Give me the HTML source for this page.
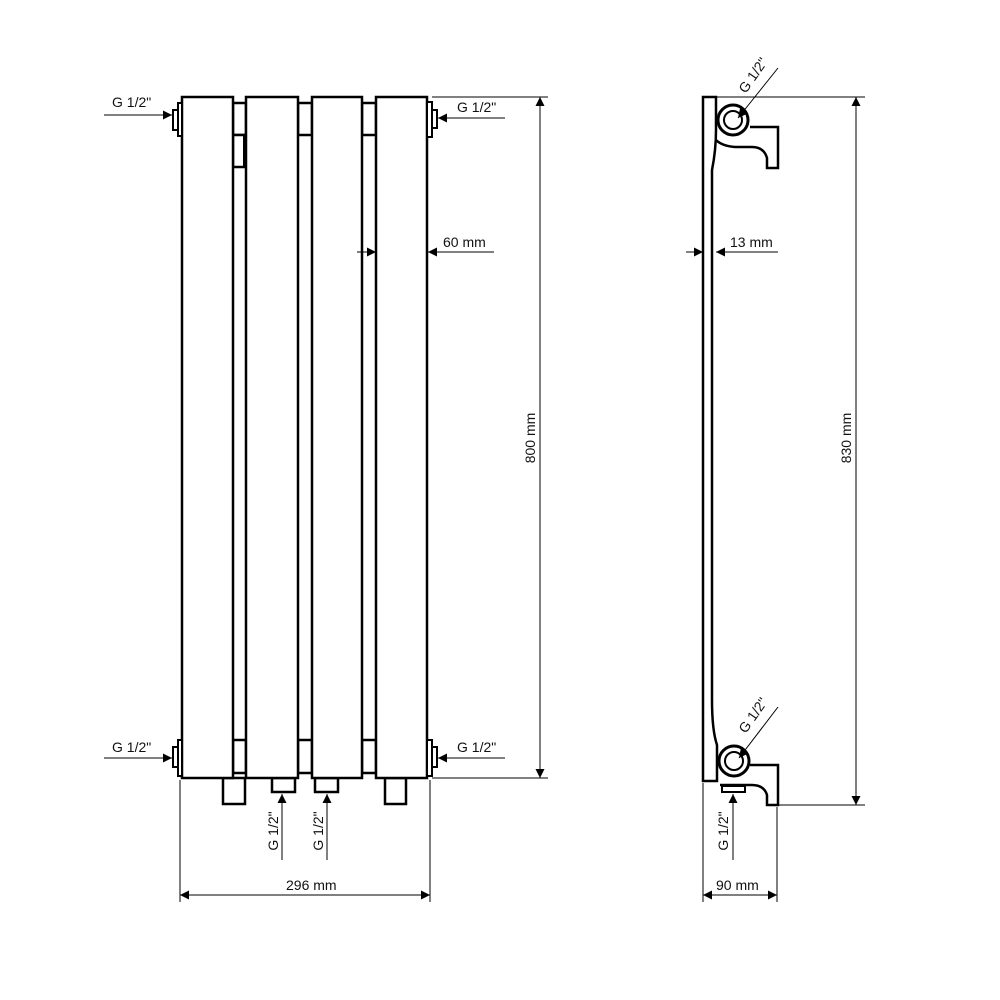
<!DOCTYPE html>
<html><head><meta charset="utf-8"><style>html,body{margin:0;padding:0;background:#fff}svg{display:block}text{font-family:"Liberation Sans",Arial,sans-serif;font-size:14px;fill:#111}</style></head>
<body>
<svg width="1000" height="1000" viewBox="0 0 1000 1000" xmlns="http://www.w3.org/2000/svg">
<defs>
<marker id="a" viewBox="0 0 10 10" refX="10" refY="5" markerWidth="13" markerHeight="9" markerUnits="userSpaceOnUse" orient="auto-start-reverse"><path d="M0,0 L10,5 L0,10 Z" fill="#000"/></marker>
</defs>
<g fill="#fff" stroke="#000" stroke-width="2.5">
<rect x="233" y="103" width="13" height="32"/><rect x="233" y="135" width="13" height="32"/>
<line x1="245" y1="136" x2="245" y2="166" stroke-width="4"/>
<rect x="298" y="103" width="14" height="32"/><rect x="362" y="103" width="14" height="32"/>
<rect x="233" y="740" width="13" height="33"/><rect x="298" y="740" width="14" height="33"/><rect x="362" y="740" width="14" height="33"/>
<rect x="223" y="778" width="22" height="26"/><rect x="272" y="778" width="23" height="14"/><rect x="315" y="778" width="23" height="14"/><rect x="385" y="778" width="21" height="26"/>
<rect x="182" y="97" width="51" height="681"/>
<rect x="246" y="97" width="52" height="681"/>
<rect x="312" y="97" width="50" height="681"/>
<rect x="376" y="97" width="51" height="681"/>
<rect x="178" y="103" width="4" height="33" stroke-width="2"/><rect x="173" y="110" width="5" height="20" stroke-width="2"/>
<rect x="178" y="740" width="4" height="36" stroke-width="2"/><rect x="173" y="747" width="5" height="20" stroke-width="2"/>
<rect x="427" y="102" width="5" height="35" stroke-width="2"/><rect x="432" y="110" width="5" height="18" stroke-width="2"/>
<rect x="427" y="740" width="5" height="36" stroke-width="2"/><rect x="432" y="747" width="5" height="20" stroke-width="2"/>
</g>
<g stroke="#000" stroke-width="1" fill="none">
<line x1="432" y1="97" x2="548" y2="97"/><line x1="432" y1="778" x2="548" y2="778"/>
<line x1="540" y1="97" x2="540" y2="778" marker-start="url(#a)" marker-end="url(#a)"/>
<line x1="104" y1="115" x2="172" y2="115" marker-end="url(#a)"/>
<line x1="505" y1="118" x2="438" y2="118" marker-end="url(#a)"/>
<line x1="104" y1="758" x2="172" y2="758" marker-end="url(#a)"/>
<line x1="505" y1="758" x2="438" y2="758" marker-end="url(#a)"/>
<line x1="357" y1="252" x2="376" y2="252" marker-end="url(#a)"/>
<line x1="494" y1="252" x2="428" y2="252" marker-end="url(#a)"/>
<line x1="282" y1="860" x2="282" y2="794" marker-end="url(#a)"/>
<line x1="327" y1="860" x2="327" y2="794" marker-end="url(#a)"/>
<line x1="180" y1="780" x2="180" y2="902"/><line x1="430" y1="780" x2="430" y2="902"/>
<line x1="180" y1="895" x2="430" y2="895" marker-start="url(#a)" marker-end="url(#a)"/>
</g>
<text x="112" y="107">G 1/2"</text>
<text x="457" y="112">G 1/2"</text>
<text x="112" y="752">G 1/2"</text>
<text x="457" y="752">G 1/2"</text>
<text x="443" y="247">60 mm</text>
<text x="286" y="890">296 mm</text>
<text transform="translate(535,438) rotate(-90)" text-anchor="middle">800 mm</text>
<text transform="translate(278,831) rotate(-90)" text-anchor="middle">G 1/2"</text>
<text transform="translate(323,831) rotate(-90)" text-anchor="middle">G 1/2"</text>

<g fill="#fff" stroke="#000" stroke-width="2.5">
<path d="M703,97 L716,97 L716,130 Q716,150 712,170 L712,700 Q712,730 717,745 L717,781 L703,781 Z"/>
<path d="M750,127 L778,127 L778,168 L767,168 L767,158 Q764,147 752,147 L735,147 Q722,146 716,140"/>
<path d="M750,765 L778,765 L778,805 L767,805 L767,795 Q764,785 752,785 L720,785"/>
<rect x="722" y="786" width="23" height="6" stroke-width="2"/>
<circle cx="733" cy="120" r="15" stroke-width="3"/><circle cx="733" cy="120" r="9" stroke-width="2"/>
<circle cx="734" cy="761" r="15" stroke-width="3"/><circle cx="734" cy="761" r="9" stroke-width="2"/>
</g>
<g stroke="#000" stroke-width="1" fill="none">
<line x1="778" y1="68" x2="738" y2="118" marker-end="url(#a)"/>
<line x1="778" y1="707" x2="739" y2="758" marker-end="url(#a)"/>
<line x1="717" y1="97" x2="865" y2="97"/><line x1="778" y1="805" x2="865" y2="805"/>
<line x1="856" y1="97" x2="856" y2="805" marker-start="url(#a)" marker-end="url(#a)"/>
<line x1="686" y1="252" x2="703" y2="252" marker-end="url(#a)"/>
<line x1="778" y1="252" x2="716" y2="252" marker-end="url(#a)"/>
<line x1="733" y1="860" x2="733" y2="794" marker-end="url(#a)"/>
<line x1="703" y1="783" x2="703" y2="902"/><line x1="777" y1="807" x2="777" y2="902"/>
<line x1="703" y1="895" x2="777" y2="895" marker-start="url(#a)" marker-end="url(#a)"/>
</g>
<text x="730" y="247">13 mm</text>
<text x="716" y="890">90 mm</text>
<text transform="translate(851,438) rotate(-90)" text-anchor="middle">830 mm</text>
<text transform="translate(728,831) rotate(-90)" text-anchor="middle">G 1/2"</text>
<text transform="translate(757,78) rotate(-55)" text-anchor="middle">G 1/2"</text>
<text transform="translate(757,718) rotate(-55)" text-anchor="middle">G 1/2"</text>
</svg>
</body></html>
